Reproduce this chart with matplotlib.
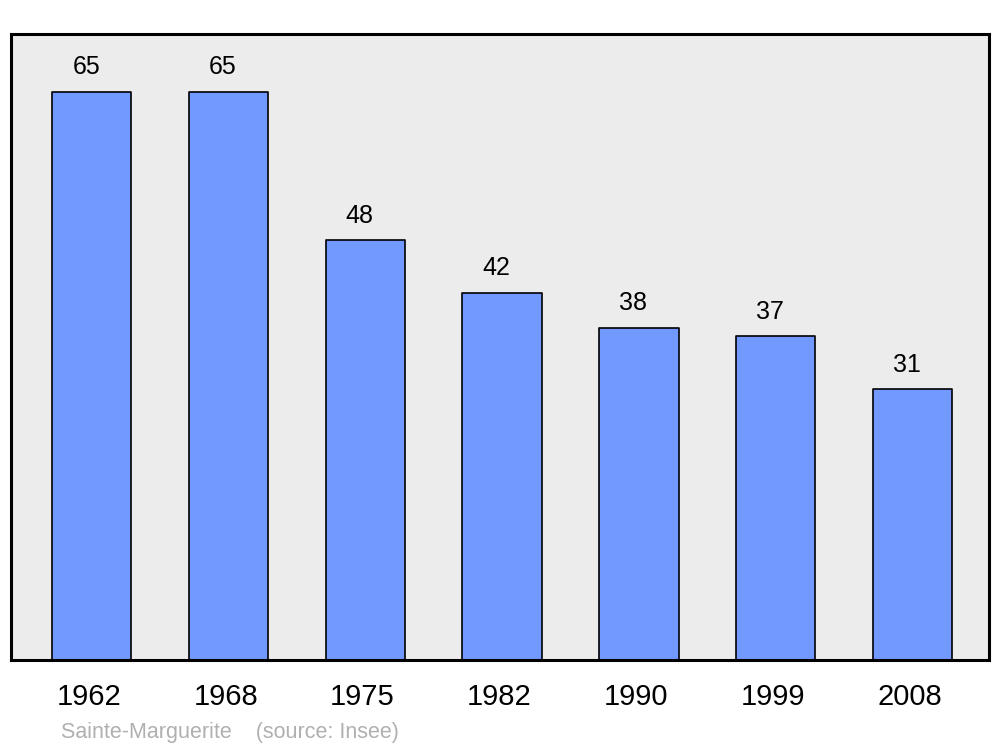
import matplotlib
matplotlib.use("Agg")
import matplotlib.pyplot as plt

years = ["1962", "1968", "1975", "1982", "1990", "1999", "2008"]
population = [65, 65, 48, 42, 38, 37, 31]
footer = "Sainte-Marguerite    (source: Insee)"

plt.rcParams["font.family"] = ["Liberation Sans", "DejaVu Sans"]

fig = plt.figure(figsize=(10, 7.47), dpi=100)
ax = fig.add_axes([0.011, 0.1165, 0.978, 0.838])
ax.set_facecolor("#ececec")

x = range(len(years))
bars = ax.bar(x, population, width=0.58, color="#7299ff", edgecolor="black",
              linewidth=1.2, joinstyle="round")
for b, v in zip(bars, population):
    ax.annotate(str(v), (b.get_x() + b.get_width() / 2, v),
                xytext=(-4, 17.5), textcoords="offset points",
                ha="center", va="center", fontsize=18)

ax.set_xlim(-0.59, 6.56)
ax.set_ylim(0, 71.6)
ax.set_xticks([i - 0.02 for i in x])
ax.set_xticklabels(years, fontsize=21)
ax.tick_params(axis="x", length=0, pad=16.5)
ax.set_yticks([])
for s in ax.spines.values():
    s.set_linewidth(2.2)
    s.set_joinstyle("round")

fig.text(0.061, 0.019, footer, color="#b0b0b0", fontsize=15.5, ha="left", va="center")

fig.savefig("out.png", dpi=100)
